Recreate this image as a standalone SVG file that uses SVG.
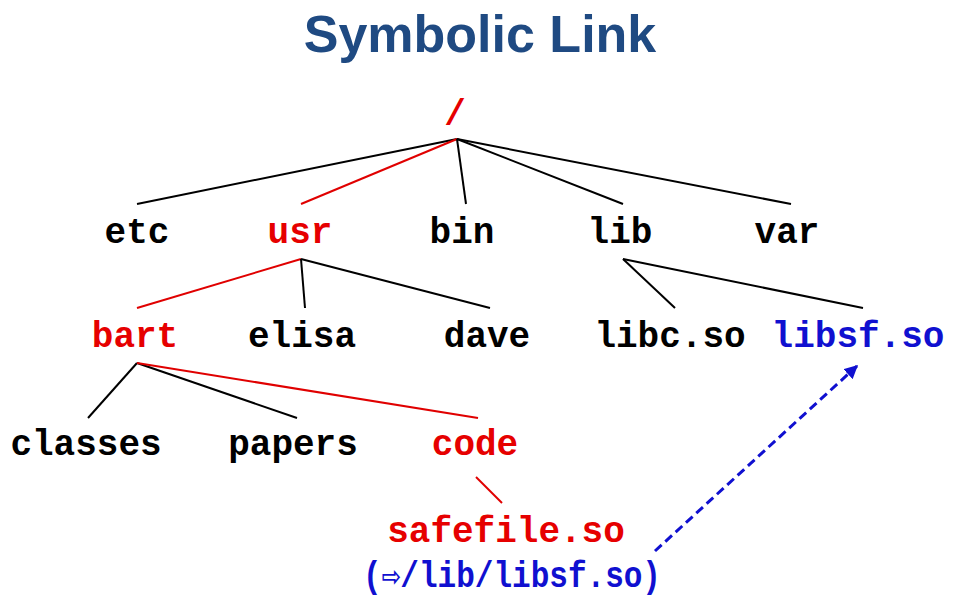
<svg xmlns="http://www.w3.org/2000/svg" width="959" height="609" viewBox="0 0 959 609">
<style>
.t{font-family:"Liberation Mono","DejaVu Sans Mono",monospace;font-weight:bold;font-size:36px;text-anchor:middle}
.k{fill:#000}
.r{fill:#E60000}
.b{fill:#1010D0}
.lk{stroke:#000;stroke-width:2;fill:none}
.lr{stroke:#E00000;stroke-width:2;fill:none}
</style>
<defs>
<marker id="ah" viewBox="0 0 10 10" refX="9" refY="5" markerWidth="4.5" markerHeight="4.5" orient="auto" markerUnits="strokeWidth">
<path d="M0,0 L10,5 L0,10 Z" fill="#1010D0"/>
</marker>
</defs>
<rect width="959" height="609" fill="#fff"/>
<text x="480" y="52" font-family="Liberation Sans, Arial, sans-serif" font-weight="bold" font-size="52" fill="#1F4A82" text-anchor="middle">Symbolic Link</text>
<g id="connectors">
<line class="lk" x1="457" y1="139" x2="137" y2="204"/>
<line class="lr" x1="457" y1="139" x2="301" y2="204"/>
<line class="lk" x1="457" y1="139" x2="466" y2="204"/>
<line class="lk" x1="457" y1="139" x2="623" y2="204"/>
<line class="lk" x1="457" y1="139" x2="791" y2="204"/>
<line class="lr" x1="301" y1="259" x2="137" y2="308"/>
<line class="lk" x1="301" y1="259" x2="305" y2="308"/>
<line class="lk" x1="301" y1="259" x2="490" y2="308"/>
<line class="lk" x1="623" y1="259" x2="675" y2="308"/>
<line class="lk" x1="623" y1="259" x2="863" y2="308"/>
<line class="lk" x1="137" y1="363" x2="88" y2="418"/>
<line class="lk" x1="137" y1="363" x2="297" y2="418"/>
<line class="lr" x1="137" y1="363" x2="478" y2="418"/>
<line class="lr" x1="476" y1="477" x2="502" y2="503"/>
<line x1="655" y1="551" x2="857" y2="366" stroke="#1010D0" stroke-width="3" stroke-dasharray="9,5" marker-end="url(#ah)"/>
</g>
<g id="root"><text class="t r" x="455" y="125">/</text></g>
<g id="etc"><text class="t k" x="137" y="243">etc</text></g>
<g id="usr"><text class="t r" x="300" y="243">usr</text></g>
<g id="bin"><text class="t k" x="462" y="243">bin</text></g>
<g id="lib"><text class="t k" x="620" y="243">lib</text></g>
<g id="var"><text class="t k" x="787" y="243">var</text></g>
<g id="bart"><text class="t r" x="135" y="347">bart</text></g>
<g id="elisa"><text class="t k" x="302" y="347">elisa</text></g>
<g id="dave"><text class="t k" x="487" y="347">dave</text></g>
<g id="libc"><text class="t k" x="670" y="347">libc.so</text></g>
<g id="libsf"><text class="t b" x="858" y="347">libsf.so</text></g>
<g id="classes"><text class="t k" x="86" y="455">classes</text></g>
<g id="papers"><text class="t k" x="293" y="455">papers</text></g>
<g id="code"><text class="t r" x="475" y="455">code</text></g>
<g id="safefile">
<text class="t r" x="506" y="542">safefile.so</text>
<text class="t b" x="512" y="587" font-size="30" textLength="298" lengthAdjust="spacingAndGlyphs">(⇨/lib/libsf.so)</text>
</g>
</svg>
